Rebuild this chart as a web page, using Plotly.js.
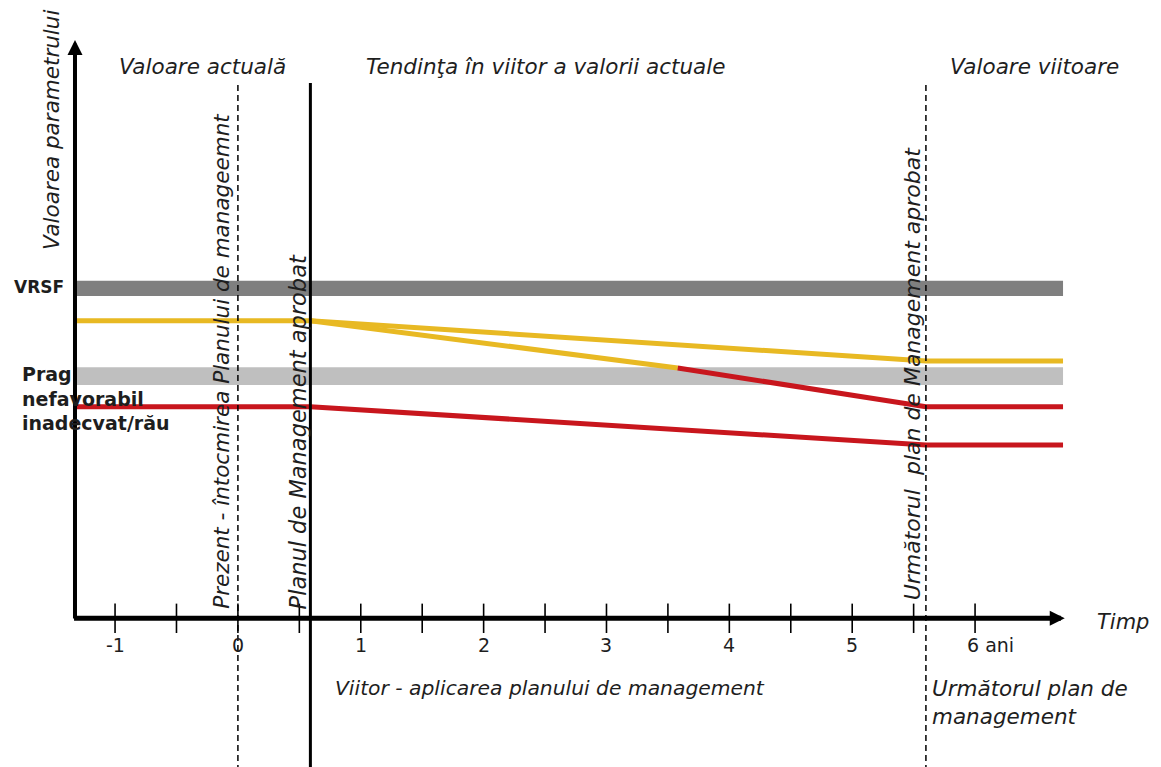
<!DOCTYPE html>
<html>
<head>
<meta charset="utf-8">
<script src="https://cdn.plot.ly/plotly-3.0.1.min.js"></script>
<style>html,body{margin:0;padding:0;background:#fff;}#chart{width:1161px;height:767px;}</style>
</head>
<body>
<div id="chart"></div>
<script>
// ---- data (conceptual diagram values) ----
var axisStart = -1.326;          // where the value axis sits on the time axis
var axisEnd = 6.73;              // tip of the time arrow
var seriesEnd = 6.716;           // right end of lines and bands
var presentX = 0;                // Prezent
var approvedX = 0.59;            // Planul de Management aprobat
var nextPlanX = 5.6;             // Următorul plan de Management aprobat

var tickValues = [-1, -0.5, 0, 0.5, 1, 1.5, 2, 2.5, 3, 3.5, 4, 4.5, 5, 5.5, 6];
var tickLabelValues = [-1, 0, 1, 2, 3, 4, 5, 6];
var tickLabels = ['-1', '0', '1', '2', '3', '4', '5', '6 ani'];

var bandNames = ['VRSF', 'Prag nefavorabil'];
var bandLow = [53.72, 38.88];
var bandHigh = [56.27, 41.83];
var bandColors = ['#7f7f7f', '#bfbfbf'];

var yellowUpperX = [axisStart, approvedX, nextPlanX, seriesEnd];
var yellowUpperY = [49.6, 49.6, 42.88, 42.88];
var yellowLowerX = [approvedX, 3.58];
var yellowLowerY = [49.6, 41.72];
var redMiddleX = [3.58, nextPlanX, seriesEnd];
var redMiddleY = [41.72, 35.27, 35.27];
var redLowerX = [axisStart, approvedX, nextPlanX, seriesEnd];
var redLowerY = [35.27, 35.27, 28.88, 28.88];

var yAxisTop = 96.4;
var verticalTop = [88.9, 89.2, 88.9];

var YELLOW = '#e8b923';
var RED = '#c8161d';
var FONT = 'DejaVu Sans, Liberation Sans, sans-serif';
var TXT = '#1e1e1e';

var xr = [-1.9364, 7.5134];
var yr = [-24.78, 103.05];

var traces = [
  {x: yellowUpperX, y: yellowUpperY, mode: 'lines', line: {color: YELLOW, width: 5}, hoverinfo: 'skip'},
  {x: yellowLowerX, y: yellowLowerY, mode: 'lines', line: {color: YELLOW, width: 5}, hoverinfo: 'skip'},
  {x: redMiddleX, y: redMiddleY, mode: 'lines', line: {color: RED, width: 5}, hoverinfo: 'skip'},
  {x: redLowerX, y: redLowerY, mode: 'lines', line: {color: RED, width: 5}, hoverinfo: 'skip'},
  {x: tickValues, y: tickValues.map(function(){return 0;}), mode: 'markers',
   marker: {symbol: 'line-ns-open', size: 21, color: '#000', line: {color: '#000', width: 1.6}}, hoverinfo: 'skip'}
];

var shapes = [];
for (var i = 0; i < bandLow.length; i++) {
  shapes.push({type: 'rect', xref: 'x', yref: 'y', x0: axisStart, x1: seriesEnd, y0: bandLow[i], y1: bandHigh[i],
    fillcolor: bandColors[i], line: {width: 0}, layer: 'below'});
}
var vx = [presentX, approvedX, nextPlanX];
var vdash = ['6px,4px', 'solid', '6px,4px'];
var vw = [1.5, 3, 1.5];
for (var j = 0; j < vx.length; j++) {
  shapes.push({type: 'line', xref: 'x', yref: 'y', x0: vx[j], x1: vx[j], y0: verticalTop[j], y1: yr[0],
    line: {color: '#000', width: vw[j], dash: vdash[j]}, layer: 'above'});
}

var it = function(size){ return {family: FONT, size: size, color: TXT, style: 'italic'}; };
var annotations = [
  // axes with arrows
  {x: axisEnd, y: 0, ax: axisStart - 0.02, ay: 0, axref: 'x', ayref: 'y', xref: 'x', yref: 'y', text: '',
   showarrow: true, arrowhead: 2, arrowsize: 0.6, arrowwidth: 5, arrowcolor: '#000', standoff: 0},
  {x: axisStart, y: yAxisTop, ax: axisStart, ay: -0.3, axref: 'x', ayref: 'y', xref: 'x', yref: 'y', text: '',
   showarrow: true, arrowhead: 2, arrowsize: 0.75, arrowwidth: 4, arrowcolor: '#000', standoff: 0},
  // region titles
  {x: -0.29, y: 91.9, text: 'Valoare actuală', showarrow: false, font: it(21.5)},
  {x: 2.5, y: 91.9, text: 'Tendinţa în viitor a valorii actuale', showarrow: false, font: it(21.5)},
  {x: 6.48, y: 91.9, text: 'Valoare viitoare', showarrow: false, font: it(21.5)},
  // y axis title
  {x: -1.513, y: 81.4, text: 'Valoarea parametrului', textangle: -90, showarrow: false, font: it(21.5)},
  // band labels
  {x: -1.839, y: 55.2, xanchor: 'left', text: 'VRSF', showarrow: false,
   font: {family: FONT, size: 17, color: TXT, weight: 700}},
  {x: -1.774, y: 36.6, xanchor: 'left', align: 'left', text: 'Prag<br>nefavorabil<br>inadecvat/rău', showarrow: false,
   font: {family: FONT, size: 19, color: TXT, weight: 700}},
  // vertical line labels
  {x: -0.13, y: 42.9, text: 'Prezent - întocmirea Planului de manageemnt', textangle: -90, showarrow: false, font: it(21.5)},
  {x: 0.49, y: 31, text: 'Planul de Management aprobat', textangle: -90, showarrow: false, font: it(22.5)},
  {x: 5.49, y: 40.9, text: 'Următorul  plan de Management aprobat', textangle: -90, showarrow: false, font: it(22)},
  // bottom texts
  {x: 0.776, y: -11.6, xanchor: 'left', text: 'Viitor - aplicarea planului de management', showarrow: false, font: it(20.3)},
  {x: 5.633, y: -14.1, xanchor: 'left', align: 'left', text: 'Următorul plan de<br>management', showarrow: false, font: it(21.5)},
  {x: 7.204, y: -0.6, text: 'Timp', showarrow: false, font: it(21)}
];
for (var k = 0; k < tickLabels.length; k++) {
  var last = tickLabels[k].length > 2;
  annotations.push({x: tickLabelValues[k], y: -4.4, text: tickLabels[k], showarrow: false,
    xanchor: last ? 'left' : 'center', xshift: last ? -10 : 0,
    font: {family: FONT, size: 19, color: TXT}});
}
annotations.forEach(function(a){ if (!a.xref) { a.xref = 'x'; a.yref = 'y'; } });

var layout = {
  width: 1161, height: 767,
  margin: {l: 0, r: 0, t: 0, b: 0},
  paper_bgcolor: '#fff', plot_bgcolor: '#fff',
  showlegend: false,
  xaxis: {range: xr, visible: false, fixedrange: true},
  yaxis: {range: yr, visible: false, fixedrange: true},
  shapes: shapes,
  annotations: annotations
};

Plotly.newPlot('chart', traces, layout, {staticPlot: true});
</script>
</body>
</html>
